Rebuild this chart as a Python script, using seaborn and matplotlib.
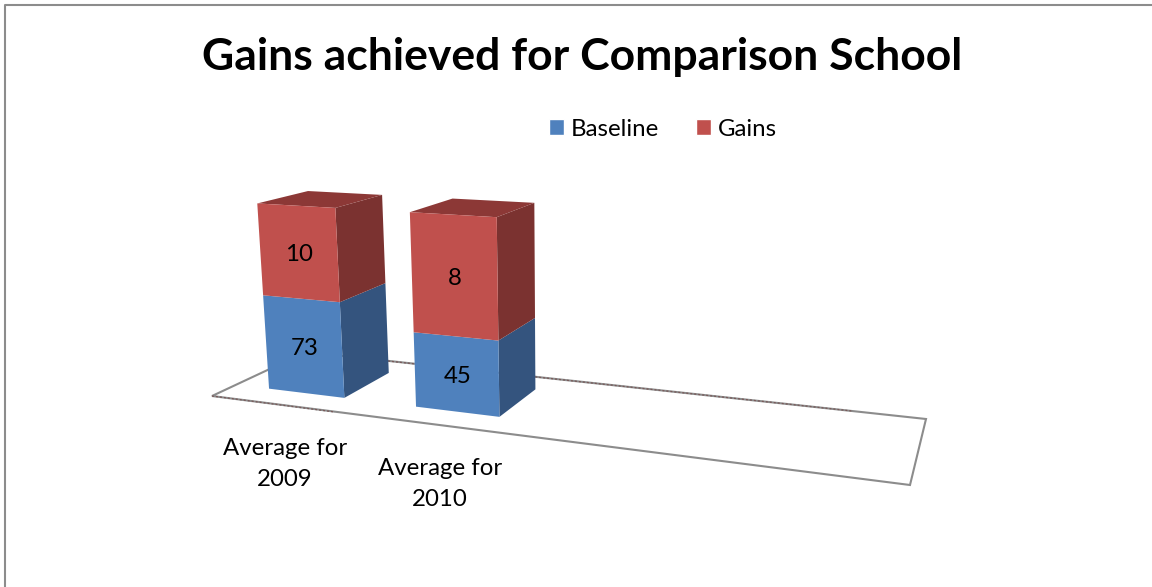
import numpy as np
import pandas as pd
import matplotlib
matplotlib.use("Agg")
import matplotlib.pyplot as plt
import seaborn as sns
from matplotlib.patches import Patch, Polygon
from matplotlib.lines import Line2D
from matplotlib.transforms import Affine2D, Transform

# chart values
categories = ["Average for\n2009", "Average for\n2010"]
series_names = ["Baseline", "Gains"]
baseline_labels = [73, 45]
gains_labels = [10, 8]
# the drawn heights in the original do not follow its labels, so they are read separately
baseline_heights = [93, 71]
gains_heights = [88, 110]

blue, blue_side = "#4F81BD", "#34547E"
red, red_side, red_top = "#C0504D", "#7B3230", "#8C3836"
grey = "#8C8C8C"
bar_width = 0.525
z_front, z_back = 0.235, 0.765

# view: floor corners in image pixels, and where the vertical edges meet
p00, p10, p11, p01 = (212, 396), (910, 485), (926, 419), (306, 352)
vanish = (562, 5000)
vert_scale = -1 / 4600


def floor_matrix():
    dx1 = np.subtract(p10, p11)
    dx2 = np.subtract(p01, p11)
    s = np.subtract(p00, p10) + np.subtract(p11, p01)
    det = dx1[0] * dx2[1] - dx1[1] * dx2[0]
    g = (s[0] * dx2[1] - s[1] * dx2[0]) / det
    h = (dx1[0] * s[1] - dx1[1] * s[0]) / det
    return np.array([
        [p10[0] - p00[0] + g * p10[0], p01[0] - p00[0] + h * p01[0], p00[0]],
        [p10[1] - p00[1] + g * p10[1], p01[1] - p00[1] + h * p01[1], p00[1]],
        [g, h, 1.0],
    ])


FLOOR = floor_matrix()
VERT = np.array([vanish[0], vanish[1], 1.0]) * vert_scale


def project(x, y, z):
    # x in category units, y bar height, z depth 0-1 over the floor
    x, y, z = np.asarray(x, float), np.asarray(y, float), np.asarray(z, float)
    u = (x + 0.5) / 4
    px = FLOOR[0, 0] * u + FLOOR[0, 1] * z + FLOOR[0, 2] + VERT[0] * y
    py = FLOOR[1, 0] * u + FLOOR[1, 1] * z + FLOOR[1, 2] + VERT[1] * y
    pw = FLOOR[2, 0] * u + FLOOR[2, 1] * z + FLOOR[2, 2] + VERT[2] * y
    return np.column_stack([np.atleast_1d(px / pw), np.atleast_1d(py / pw)])


class FrontPlane(Transform):
    input_dims = 2
    output_dims = 2
    is_affine = False

    def transform_non_affine(self, values):
        values = np.asarray(values, float)
        return project(values[:, 0], values[:, 1], np.full(len(values), z_front))


sns.set_theme(style="white")
plt.rcParams["font.family"] = ["Lato", "DejaVu Sans"]

fig, ax = plt.subplots(figsize=(11.52, 5.87), dpi=100)
fig.subplots_adjust(0, 0, 1, 1)
pixels = Affine2D().scale(1, -1).translate(0, 587)

df = pd.DataFrame({"category": categories, "Baseline": baseline_heights, "Gains": gains_heights})
sns.barplot(data=df, x="category", y="Baseline", color=blue, saturation=1,
            width=bar_width, linewidth=0, ax=ax)
sns.barplot(data=df, x="category", y="Gains", bottom=df["Baseline"], color=red, saturation=1,
            width=bar_width, linewidth=0, ax=ax)
ax.set_xlim(-0.5, 3.5)
ax.set_axis_off()
bars = list(ax.patches)

# floor
ax.add_patch(Polygon([p00, p10, p11, p01], closed=True, facecolor="white", edgecolor=grey,
                     linewidth=1.5, transform=pixels, clip_on=False, zorder=0))
# the speckled stretches of the floor edge
ax.add_line(Line2D([388, 852], [361, 411], color="#7A5A5A", linewidth=0.9, linestyle=(0, (1.6, 1.6)),
                   transform=pixels, clip_on=False, zorder=1))
ax.add_line(Line2D([212, 335], [396, 412], color="#7A5A5A", linewidth=0.9, linestyle=(0, (1.6, 1.6)),
                   transform=pixels, clip_on=False, zorder=1))

# side and top faces come from the bars seaborn drew
front_plane = FrontPlane() + pixels
for i, bar in enumerate(bars):
    x0, x1 = bar.get_x(), bar.get_x() + bar.get_width()
    y0, y1 = bar.get_y(), bar.get_y() + bar.get_height()
    bar.set_transform(front_plane)
    bar.set_clip_on(False)
    bar.set_zorder(3)
    is_gain = i >= len(categories)
    side = project([x1, x1, x1, x1], [y0, y1, y1, y0], [z_front, z_front, z_back, z_back])
    ax.add_patch(Polygon(side, closed=True, facecolor=red_side if is_gain else blue_side,
                         linewidth=0, transform=pixels, clip_on=False, zorder=2))
    if is_gain:
        top = project([x0, x1, x1, x0], [y1] * 4, [z_front, z_front, z_back, z_back])
        ax.add_patch(Polygon(top, closed=True, facecolor=red_top, linewidth=0,
                             transform=pixels, clip_on=False, zorder=2))

# value and category labels
for i, cat in enumerate(categories):
    base_mid = project(i, baseline_heights[i] / 2, z_front)[0]
    gain_mid = project(i, baseline_heights[i] + gains_heights[i] / 2, z_front)[0]
    ax.text(base_mid[0] + 1, base_mid[1] + 2, str(baseline_labels[i]), transform=pixels,
            ha="center", va="center", fontsize=17.3, color="black", zorder=5)
    ax.text(gain_mid[0] + 1, gain_mid[1] + 2, str(gains_labels[i]), transform=pixels,
            ha="center", va="center", fontsize=17.3, color="black", zorder=5)
    foot = project(i, 0, 0)[0]
    ax.text(foot[0] + 1.5, foot[1] + 59, cat, transform=pixels, ha="center", va="center",
            fontsize=17.3, color="black", linespacing=1.62, zorder=5)

ax.text(582, 57, "Gains achieved for Comparison School", transform=pixels, ha="center",
        va="center", fontsize=32, fontweight="bold", color="black")

handles = [Patch(facecolor=blue, label=series_names[0]), Patch(facecolor=red, label=series_names[1])]
ax.legend(handles=handles, ncol=2, frameon=False, loc="center", bbox_to_anchor=(663, 458),
          bbox_transform=Affine2D(), fontsize=17.3, handlelength=0.63, handleheight=0.63,
          handletextpad=0.29, columnspacing=1.54, labelcolor="black")

# chart frame, open on the right and at the bottom
ax.add_line(Line2D([5, 5, 1152], [587, 5, 5], color=grey, linewidth=1.5, transform=pixels,
                   clip_on=False))

fig.savefig("out.png", dpi=100)
